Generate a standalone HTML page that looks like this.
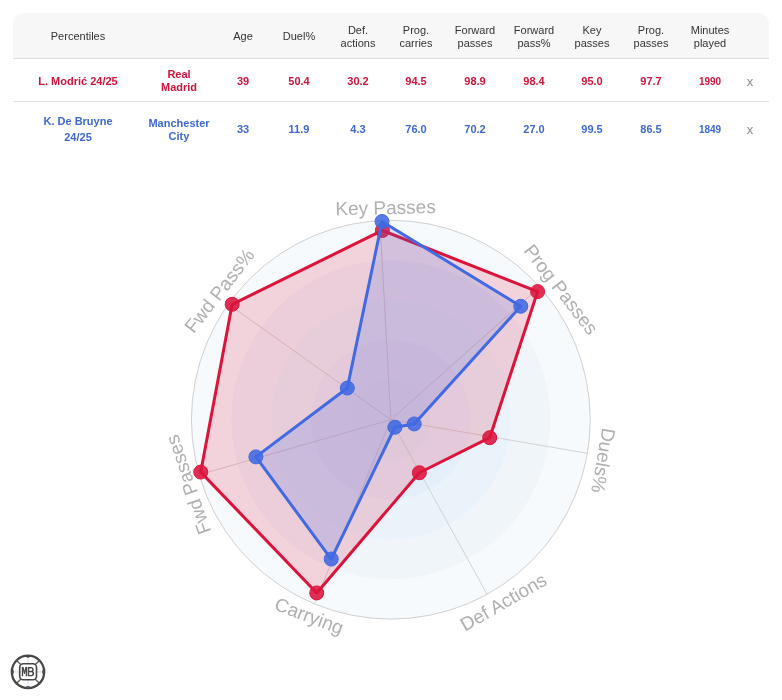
<!DOCTYPE html>
<html><head><meta charset="utf-8">
<style>
html,body{margin:0;padding:0;background:#fff;-webkit-font-smoothing:antialiased;width:782px;height:700px;overflow:hidden;position:relative;font-family:"Liberation Sans",sans-serif;}
.hdr{position:absolute;left:13px;top:13px;width:756px;height:45px;background:#f7f7f7;border-radius:10px 10px 0 0;border-bottom:1px solid #dedede;}
.rb{position:absolute;left:13px;top:101px;width:756px;height:1px;background:#e2e2e2;}
.c{will-change:transform;position:absolute;width:120px;height:60px;display:flex;align-items:center;justify-content:center;text-align:center;font-size:11px;line-height:13.3px;}
.h{color:#333;line-height:13.5px;}
.r{color:#d0143c;font-weight:bold;}
.b{color:#3f68d4;font-weight:bold;}
.m{font-size:10px;}
.nm{line-height:15.6px;}
.x{color:#8a8a8a;font-size:13px;}
</style></head><body>
<div class="hdr"></div>
<div class="rb"></div>
<div class="c h" style="left:17.5px;top:6.8px">Percentiles</div><div class="c h" style="left:119.3px;top:6.8px"></div><div class="c h" style="left:183.4px;top:6.8px">Age</div><div class="c h" style="left:239.3px;top:6.8px">Duel%</div><div class="c h" style="left:297.9px;top:6.8px">Def.<br>actions</div><div class="c h" style="left:356.4px;top:6.8px">Prog.<br>carries</div><div class="c h" style="left:415.4px;top:6.8px">Forward<br>passes</div><div class="c h" style="left:473.7px;top:6.8px">Forward<br>pass%</div><div class="c h" style="left:532.4px;top:6.8px">Key<br>passes</div><div class="c h" style="left:590.9px;top:6.8px">Prog.<br>passes</div><div class="c h" style="left:649.7px;top:6.8px">Minutes<br>played</div><div class="c r" style="left:17.5px;top:52.0px">L. Modrić 24/25</div><div class="c r" style="left:119.3px;top:51.0px">Real<br>Madrid</div><div class="c r" style="left:183.4px;top:52.0px">39</div><div class="c r" style="left:239.3px;top:52.0px">50.4</div><div class="c r" style="left:297.9px;top:52.0px">30.2</div><div class="c r" style="left:356.4px;top:52.0px">94.5</div><div class="c r" style="left:415.4px;top:52.0px">98.9</div><div class="c r" style="left:473.7px;top:52.0px">98.4</div><div class="c r" style="left:532.4px;top:52.0px">95.0</div><div class="c r" style="left:590.9px;top:52.0px">97.7</div><div class="c r m" style="left:649.7px;top:52.0px">1990</div><div class="c b nm" style="left:17.5px;top:100.2px">K. De Bruyne<br>24/25</div><div class="c b" style="left:119.3px;top:100.2px">Manchester<br>City</div><div class="c b" style="left:183.4px;top:100.2px">33</div><div class="c b" style="left:239.3px;top:100.2px">11.9</div><div class="c b" style="left:297.9px;top:100.2px">4.3</div><div class="c b" style="left:356.4px;top:100.2px">76.0</div><div class="c b" style="left:415.4px;top:100.2px">70.2</div><div class="c b" style="left:473.7px;top:100.2px">27.0</div><div class="c b" style="left:532.4px;top:100.2px">99.5</div><div class="c b" style="left:590.9px;top:100.2px">86.5</div><div class="c b m" style="left:649.7px;top:100.2px">1849</div><div class="c x" style="left:690.0px;top:52.0px">x</div><div class="c x" style="left:690.0px;top:100.2px">x</div>
<svg width="782" height="700" style="position:absolute;left:0;top:0;will-change:transform">
<circle cx="390.85" cy="419.7" r="199.40" fill="#f7fafd"/>
<circle cx="390.85" cy="419.7" r="159.52" fill="#f0f5fa"/>
<circle cx="390.85" cy="419.7" r="119.64" fill="#eaf3fa"/>
<circle cx="390.85" cy="419.7" r="79.76" fill="#e5eff9"/>
<circle cx="390.85" cy="419.7" r="39.88" fill="#e2edf8"/>
<circle cx="390.85" cy="419.7" r="199.40" fill="none" stroke="#cfcfcf" stroke-width="1"/>
<line x1="390.85" y1="419.7" x2="379.89" y2="220.60" stroke="#d2d2d2" stroke-width="1"/>
<line x1="390.85" y1="419.7" x2="539.68" y2="287.00" stroke="#d2d2d2" stroke-width="1"/>
<line x1="390.85" y1="419.7" x2="587.40" y2="453.32" stroke="#d2d2d2" stroke-width="1"/>
<line x1="390.85" y1="419.7" x2="487.11" y2="594.33" stroke="#d2d2d2" stroke-width="1"/>
<line x1="390.85" y1="419.7" x2="314.34" y2="603.84" stroke="#d2d2d2" stroke-width="1"/>
<line x1="390.85" y1="419.7" x2="199.18" y2="474.69" stroke="#d2d2d2" stroke-width="1"/>
<line x1="390.85" y1="419.7" x2="228.36" y2="304.13" stroke="#d2d2d2" stroke-width="1"/>
<polygon points="382.42,230.46 537.61,291.58 489.73,437.68 419.37,472.74 316.73,592.94 200.73,472.09 232.16,304.31" fill="#dc143c" fill-opacity="0.17" stroke="#dc143c" stroke-width="3" stroke-linejoin="round"/><circle cx="382.42" cy="230.46" r="7" fill="#dc143c" fill-opacity="0.88" stroke="#dc143c" stroke-width="1"/><circle cx="537.61" cy="291.58" r="7" fill="#dc143c" fill-opacity="0.88" stroke="#dc143c" stroke-width="1"/><circle cx="489.73" cy="437.68" r="7" fill="#dc143c" fill-opacity="0.88" stroke="#dc143c" stroke-width="1"/><circle cx="419.37" cy="472.74" r="7" fill="#dc143c" fill-opacity="0.88" stroke="#dc143c" stroke-width="1"/><circle cx="316.73" cy="592.94" r="7" fill="#dc143c" fill-opacity="0.88" stroke="#dc143c" stroke-width="1"/><circle cx="200.73" cy="472.09" r="7" fill="#dc143c" fill-opacity="0.88" stroke="#dc143c" stroke-width="1"/><circle cx="232.16" cy="304.31" r="7" fill="#dc143c" fill-opacity="0.88" stroke="#dc143c" stroke-width="1"/>
<polygon points="382.02,221.49 520.78,306.27 414.20,423.95 394.91,427.25 331.24,559.03 255.90,456.89 347.31,388.04" fill="#4169e1" fill-opacity="0.18" stroke="#4169e1" stroke-width="3" stroke-linejoin="round"/><circle cx="382.02" cy="221.49" r="7" fill="#4169e1" fill-opacity="0.88" stroke="#4169e1" stroke-width="1"/><circle cx="520.78" cy="306.27" r="7" fill="#4169e1" fill-opacity="0.88" stroke="#4169e1" stroke-width="1"/><circle cx="414.20" cy="423.95" r="7" fill="#4169e1" fill-opacity="0.88" stroke="#4169e1" stroke-width="1"/><circle cx="394.91" cy="427.25" r="7" fill="#4169e1" fill-opacity="0.88" stroke="#4169e1" stroke-width="1"/><circle cx="331.24" cy="559.03" r="7" fill="#4169e1" fill-opacity="0.88" stroke="#4169e1" stroke-width="1"/><circle cx="255.90" cy="456.89" r="7" fill="#4169e1" fill-opacity="0.88" stroke="#4169e1" stroke-width="1"/><circle cx="347.31" cy="388.04" r="7" fill="#4169e1" fill-opacity="0.88" stroke="#4169e1" stroke-width="1"/>
<text x="385.60" y="214.20" transform="rotate(-1.30 385.60 207.70)" text-anchor="middle" font-family="Liberation Sans" font-size="19" fill="#afafaf">Key Passes</text>
<text x="561.00" y="296.00" transform="rotate(52.30 561.00 289.50)" text-anchor="middle" font-family="Liberation Sans" font-size="19" fill="#afafaf">Prog Passes</text>
<text x="603.20" y="467.10" transform="rotate(100.00 603.20 460.60)" text-anchor="middle" font-family="Liberation Sans" font-size="19" fill="#afafaf">Duels%</text>
<text x="503.50" y="608.70" transform="rotate(-30.00 503.50 602.20)" text-anchor="middle" font-family="Liberation Sans" font-size="19" fill="#afafaf">Def Actions</text>
<text x="309.20" y="622.40" transform="rotate(20.60 309.20 615.90)" text-anchor="middle" font-family="Liberation Sans" font-size="19" fill="#afafaf">Carrying</text>
<text x="188.30" y="491.10" transform="rotate(-109.00 188.30 484.60)" text-anchor="middle" font-family="Liberation Sans" font-size="19" fill="#afafaf">Fwd Passes</text>
<text x="219.50" y="297.30" transform="rotate(-52.00 219.50 290.80)" text-anchor="middle" font-family="Liberation Sans" font-size="19" fill="#afafaf">Fwd Pass%</text>
</svg>
<svg width="40" height="40" viewBox="8 652 40 40" style="position:absolute;left:8px;top:652px">
<circle cx="28" cy="671.9" r="16.2" fill="#fff" stroke="#474747" stroke-width="2.3"/>
<line x1="28" y1="656" x2="28" y2="664" stroke="#d6e2f0" stroke-width="1.2"/>
<line x1="28" y1="680" x2="28" y2="688" stroke="#d6e2f0" stroke-width="1.2"/>
<line x1="12" y1="671.9" x2="20" y2="671.9" stroke="#f0d0dc" stroke-width="1"/>
<line x1="36" y1="671.9" x2="44" y2="671.9" stroke="#f0d0dc" stroke-width="1"/>
<line x1="16.6" y1="660.5" x2="21.5" y2="665.3" stroke="#555" stroke-width="1.2"/>
<line x1="39.4" y1="660.5" x2="34.5" y2="665.3" stroke="#555" stroke-width="1.2"/>
<line x1="16.6" y1="683.3" x2="21.5" y2="678.5" stroke="#555" stroke-width="1.2"/>
<line x1="39.4" y1="683.3" x2="34.5" y2="678.5" stroke="#555" stroke-width="1.2"/>
<path d="M24.4 656 Q28 659.6 31.6 656 Z" fill="#474747"/>
<path d="M24.4 687.8 Q28 684.2 31.6 687.8 Z" fill="#474747"/>
<path d="M12.1 668.3 Q15.7 671.9 12.1 675.5 Z" fill="#474747"/>
<path d="M43.9 668.3 Q40.3 671.9 43.9 675.5 Z" fill="#474747"/>
<rect x="19.7" y="663.8" width="16.8" height="16" rx="3.6" fill="#fff" stroke="#474747" stroke-width="1.6"/>
<path d="M21.8 676.3 V667.1 H23.6 L24.45 670.9 L25.3 667.1 H27.1 V676.3 H25.75 V670.3 L24.9 673.9 H24.0 L23.15 670.3 V676.3 Z" fill="#474747"/>
<path d="M28.5 676.3 V667.8 H31.3 Q33 667.8 33 669.6 Q33 671.5 31.1 671.5 H28.9 M31.1 671.5 Q33.3 671.5 33.3 673.6 Q33.3 675.6 31.3 675.6 H28.5" fill="none" stroke="#474747" stroke-width="1.45"/>
</svg>
</body></html>
